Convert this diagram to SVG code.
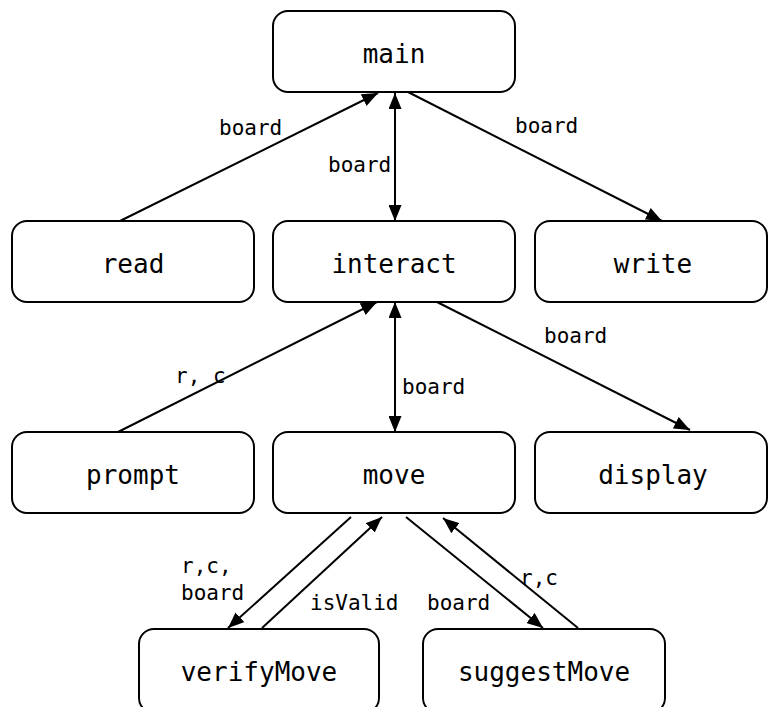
<svg xmlns="http://www.w3.org/2000/svg" width="768" height="707" viewBox="0 0 768 707">
  <style>
    .box { fill: #ffffff; stroke: #000000; stroke-width: 2; }
    .name { font-family: "DejaVu Sans Mono", "Liberation Mono", monospace; font-size: 26px; fill: #000000; text-anchor: middle; }
    .edge { stroke: #000000; stroke-width: 2; fill: none; }
    .lbl { font-family: "DejaVu Sans Mono", "Liberation Mono", monospace; font-size: 21px; fill: #000000; }
  </style>
  <defs>
    <marker id="arrow" viewBox="0 0 16 13" refX="16" refY="6.5" markerWidth="16" markerHeight="13" markerUnits="userSpaceOnUse" orient="auto-start-reverse">
      <path d="M0,0 L16,6.5 L0,13 z" fill="#000000"/>
    </marker>
  </defs>
  <rect width="768" height="707" fill="#ffffff"/>

  <!-- connectors -->
  <g id="connectors">
    <line class="edge" x1="120" y1="221" x2="378" y2="93" marker-end="url(#arrow)"/>
    <line class="edge" x1="395" y1="93" x2="395" y2="221" marker-start="url(#arrow)" marker-end="url(#arrow)"/>
    <line class="edge" x1="408" y1="92" x2="662" y2="221" marker-end="url(#arrow)"/>
    <line class="edge" x1="118" y1="432" x2="377" y2="302" marker-end="url(#arrow)"/>
    <line class="edge" x1="395" y1="302" x2="395" y2="432" marker-start="url(#arrow)" marker-end="url(#arrow)"/>
    <line class="edge" x1="437" y1="302" x2="690" y2="430" marker-end="url(#arrow)"/>
    <line class="edge" x1="351" y1="517" x2="228" y2="628" marker-end="url(#arrow)"/>
    <line class="edge" x1="262" y1="628" x2="382" y2="517" marker-end="url(#arrow)"/>
    <line class="edge" x1="406" y1="517" x2="543" y2="628" marker-end="url(#arrow)"/>
    <line class="edge" x1="578" y1="628" x2="443" y2="518" marker-end="url(#arrow)"/>

    <text class="lbl" x="219" y="135">board</text>
    <text class="lbl" x="328" y="172">board</text>
    <text class="lbl" x="515" y="133">board</text>
    <text class="lbl" x="175" y="383" xml:space="preserve">r, c</text>
    <text class="lbl" x="402" y="394">board</text>
    <text class="lbl" x="544" y="343">board</text>
    <text class="lbl" x="181" y="573">r,c,</text>
    <text class="lbl" x="181" y="600">board</text>
    <text class="lbl" x="310" y="610">isValid</text>
    <text class="lbl" x="427" y="610">board</text>
    <text class="lbl" x="520" y="585">r,c</text>
  </g>

  <!-- nodes -->
  <g id="main">
    <rect class="box" x="273" y="11" width="242" height="81" rx="15"/>
    <text class="name" x="394" y="63">main</text>
  </g>
  <g id="read">
    <rect class="box" x="12" y="221" width="242" height="81" rx="15"/>
    <text class="name" x="133" y="273">read</text>
  </g>
  <g id="interact">
    <rect class="box" x="273" y="221" width="242" height="81" rx="15"/>
    <text class="name" x="394" y="273">interact</text>
  </g>
  <g id="write">
    <rect class="box" x="535" y="221" width="232" height="81" rx="15"/>
    <text class="name" x="653" y="273">write</text>
  </g>
  <g id="prompt">
    <rect class="box" x="12" y="432" width="242" height="81" rx="15"/>
    <text class="name" x="133" y="484">prompt</text>
  </g>
  <g id="move">
    <rect class="box" x="273" y="432" width="242" height="81" rx="15"/>
    <text class="name" x="394" y="484">move</text>
  </g>
  <g id="display">
    <rect class="box" x="535" y="432" width="232" height="81" rx="15"/>
    <text class="name" x="653" y="484">display</text>
  </g>
  <g id="verifyMove">
    <rect class="box" x="139" y="629" width="240" height="84" rx="15"/>
    <text class="name" x="259" y="681">verifyMove</text>
  </g>
  <g id="suggestMove">
    <rect class="box" x="423" y="629" width="242" height="84" rx="15"/>
    <text class="name" x="544" y="681">suggestMove</text>
  </g>
</svg>
